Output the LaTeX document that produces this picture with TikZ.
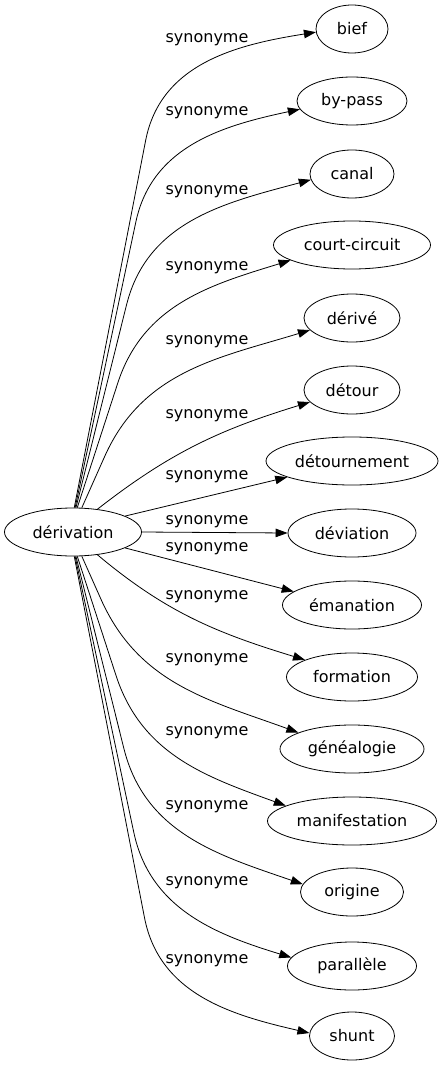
\documentclass[tikz,border=0pt]{standalone}
\usepackage{fontspec}
\setmainfont{DejaVu Sans}
\usetikzlibrary{shapes.geometric, arrows.meta}

\begin{document}
\begin{tikzpicture}[x=1pt, y=1pt,
  term/.style={draw, ellipse, line width=0.8pt, inner sep=0pt, minimum height=48pt, font=\fontsize{16}{19}\selectfont},
  synlink/.style={-{Triangle[length=12pt, width=8.5pt]}, line width=0.8pt},
  synlabel/.style={font=\fontsize{16}{19}\selectfont, inner sep=0pt}
]
  \useasboundingbox (0,0) rectangle (444,-1067);

  % Source
  \node[term, minimum width=137pt] (derivation) at (73,-532) {dérivation};

  % Synonymes
  \node[term, minimum width=72pt] (bief) at (352,-29) {bief};
  \node[term, minimum width=110pt] (bypass) at (352,-101) {by-pass};
  \node[term, minimum width=84pt] (canal) at (352,-174) {canal};
  \node[term, minimum width=157pt] (courtcircuit) at (352,-245) {court-circuit};
  \node[term, minimum width=96pt] (derive) at (352,-318) {dérivé};
  \node[term, minimum width=96pt] (detour) at (352,-390) {détour};
  \node[term, minimum width=172pt] (detournement) at (352,-461) {détournement};
  \node[term, minimum width=128pt] (deviation) at (352,-533) {déviation};
  \node[term, minimum width=139pt] (emanation) at (352,-605) {émanation};
  \node[term, minimum width=131pt] (formation) at (352,-677) {formation};
  \node[term, minimum width=144pt] (genealogie) at (352,-749) {généalogie};
  \node[term, minimum width=169pt] (manifestation) at (352,-821) {manifestation};
  \node[term, minimum width=103pt] (origine) at (352,-892) {origine};
  \node[term, minimum width=129pt] (parallele) at (352,-966) {parallèle};
  \node[term, minimum width=85pt] (shunt) at (352,-1036) {shunt};

  % Links
  \draw[synlink] (derivation.87) -- ++(79:374) to[out=79, in=189] (bief.185);
  \draw[synlink] (derivation.85) -- ++(78:292) to[out=78, in=192] (bypass.189);
  \draw[synlink] (derivation.83) -- ++(76:209) to[out=76, in=195] (canal.188);
  \draw[synlink] (derivation.80) -- ++(72:131) to[out=72, in=197] (courtcircuit.194);
  \draw[synlink] (derivation.70) -- ++(66:56) to[out=66, in=197] (derive.196);
  \draw[synlink] (derivation.43) to[out=38, in=197] (detour.196);
  \draw[synlink] (derivation.17) -- (detournement.194);
  \draw[synlink] (derivation.0) -- (deviation.180);
  \draw[synlink] (derivation.-17) -- (emanation.167);
  \draw[synlink] (derivation.-43) to[out=-40, in=163] (formation.160);
  \draw[synlink] (derivation.-70) -- ++(-66:47) to[out=-66, in=160] (genealogie.163);
  \draw[synlink] (derivation.-80) -- ++(-72:125) to[out=-72, in=160] (manifestation.167);
  \draw[synlink] (derivation.-83) -- ++(-76:198) to[out=-76, in=161] (origine.171);
  \draw[synlink] (derivation.-85) -- ++(-78:282) to[out=-78, in=163] (parallele.172);
  \draw[synlink] (derivation.-87) -- ++(-79:368) to[out=-79, in=167] (shunt.176);

  % Labels
  \node[synlabel] (lbief) at (207,-40) {synonyme};
  \node[synlabel] (lbypass) at (207,-113) {synonyme};
  \node[synlabel] (lcanal) at (207,-192) {synonyme};
  \node[synlabel] (lcourtcircuit) at (207,-268) {synonyme};
  \node[synlabel] (lderive) at (207,-342) {synonyme};
  \node[synlabel] (ldetour) at (207,-416) {synonyme};
  \node[synlabel] (ldetournement) at (207,-477) {synonyme};
  \node[synlabel] (ldeviation) at (207,-522) {synonyme};
  \node[synlabel] (lemanation) at (207,-549) {synonyme};
  \node[synlabel] (lformation) at (207,-597) {synonyme};
  \node[synlabel] (lgenealogie) at (207,-660) {synonyme};
  \node[synlabel] (lmanifestation) at (207,-733) {synonyme};
  \node[synlabel] (lorigine) at (207,-807) {synonyme};
  \node[synlabel] (lparallele) at (207,-883) {synonyme};
  \node[synlabel] (lshunt) at (207,-961) {synonyme};
\end{tikzpicture}
\end{document}
